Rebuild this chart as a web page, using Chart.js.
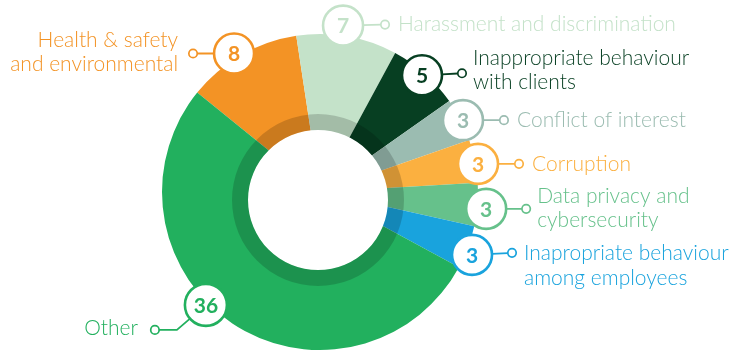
<!DOCTYPE html>
<html>
<head>
<meta charset="utf-8">
<script src="https://cdn.jsdelivr.net/npm/chart.js@4.4.1/dist/chart.umd.min.js"></script>
<style>
  html, body { margin: 0; padding: 0; background: #ffffff; overflow: hidden; }
  #wrap { position: relative; width: 732px; height: 356px; }
  #wrap canvas { position: absolute; left: 0; top: 0; }
</style>
</head>
<body>
<div id="wrap">
  <canvas id="main" width="732" height="356"></canvas>
  <canvas id="hole" width="732" height="356"></canvas>
</div>
<script>
// ---- data ----
const categories = [
  ['Health & safety', 'and environmental'],
  ['Harassment and discrimination'],
  ['Inappropriate behaviour', 'with clients'],
  ['Conflict of interest'],
  ['Corruption'],
  ['Data privacy and', 'cybersecurity'],
  ['Inapropriate behaviour', 'among employees'],
  ['Other']
];
const values = [8, 7, 5, 3, 3, 3, 3, 36];
const colors = ['#F39325', '#C4E2C9', '#073F22', '#9BBCB1', '#FBB040', '#66C18B', '#19A3DD', '#22B05E'];

// ---- label layout (annotation placement relative to each slice) ----
const labelLayout = [
  { da: -2,   dr: 5,   knob: [-41, 0],  textX: -56, align: 'right', lines: [-13, 11] },
  { da: -2,   dr: 10,  knob: [42, -1],  textX: 55,  align: 'left',  lines: [-1] },
  { da: -0.5, dr: -3,  knob: [40, -2],  textX: 51,  align: 'left',  lines: [-17, 7] },
  { da: 0.5,  dr: 2,   knob: [41, 0],   textX: 54,  align: 'left',  lines: [0] },
  { da: 1.2,  dr: 2.5, knob: [41, 0],   textX: 54,  align: 'left',  lines: [0] },
  { da: 1.2,  dr: 9,   knob: [40, 0],   textX: 51,  align: 'left',  lines: [-13, 11] },
  { da: 2,    dr: 6.5, knob: [40, -2],  textX: 52,  align: 'left',  lines: [-2, 23] },
  { da: 11.6, dr: 2.5, knob: [-51, 25], elbow: [-29, 25], textX: -68, align: 'right', lines: [23], R: 21 }
];

const LABEL_FONT = '300 21px Lato, "Open Sans", sans-serif';
const NUM_FONT = 'bold 21px Lato, "Open Sans", sans-serif';

const calloutPlugin = {
  id: 'callouts',
  afterDraw(chart) {
    const ctx = chart.ctx;
    const meta = chart.getDatasetMeta(0);
    meta.data.forEach((arc, i) => {
      const L = labelLayout[i];
      const col = colors[i];
      const p = arc.getProps(['x', 'y', 'startAngle', 'endAngle', 'outerRadius'], true);
      const a = (p.startAngle + p.endAngle) / 2 + L.da * Math.PI / 180;
      const r = p.outerRadius + L.dr;
      const cx = p.x + Math.cos(a) * r;
      const cy = p.y + Math.sin(a) * r;
      const R = L.R || 20;
      const kr = 4.2;
      const kx = cx + L.knob[0], ky = cy + L.knob[1];

      ctx.save();
      ctx.strokeStyle = col;
      ctx.lineCap = 'round';
      // connector
      ctx.lineWidth = 1.8;
      ctx.beginPath();
      if (L.elbow) {
        const ex = cx + L.elbow[0], ey = cy + L.elbow[1];
        const ang = Math.atan2(ey - cy, ex - cx);
        ctx.moveTo(cx + Math.cos(ang) * R, cy + Math.sin(ang) * R);
        ctx.lineTo(ex, ey);
        const dir = Math.sign(kx - ex);
        ctx.lineTo(kx - dir * kr, ky);
      } else {
        const ang = Math.atan2(ky - cy, kx - cx);
        ctx.moveTo(cx + Math.cos(ang) * R, cy + Math.sin(ang) * R);
        ctx.lineTo(kx - Math.cos(ang) * kr, ky - Math.sin(ang) * kr);
      }
      ctx.stroke();
      // knob
      ctx.beginPath();
      ctx.arc(kx, ky, kr, 0, Math.PI * 2);
      ctx.fillStyle = '#ffffff';
      ctx.fill();
      ctx.lineWidth = 1.7;
      ctx.stroke();
      // value bubble
      ctx.beginPath();
      ctx.arc(cx, cy, R, 0, Math.PI * 2);
      ctx.fillStyle = '#ffffff';
      ctx.fill();
      ctx.lineWidth = 2.6;
      ctx.stroke();
      ctx.fillStyle = col;
      ctx.font = NUM_FONT;
      ctx.textAlign = 'center';
      ctx.textBaseline = 'middle';
      ctx.fillText(String(values[i]), cx, cy + 1);
      // category text
      ctx.font = LABEL_FONT;
      ctx.textAlign = L.align;
      categories[i].forEach((line, j) => {
        ctx.fillText(line, cx + L.textX, cy + L.lines[j]);
      });
      ctx.restore();
    });
  }
};

new Chart(document.getElementById('main'), {
  type: 'doughnut',
  data: {
    labels: categories.map(c => c.join(' ')),
    datasets: [{
      data: values,
      backgroundColor: colors,
      borderWidth: 0,
      hoverOffset: 0
    }]
  },
  options: {
    responsive: false,
    animation: false,
    events: [],
    rotation: -51,
    cutout: 50,
    layout: { padding: { left: 162, right: 254, top: 34, bottom: 6 } },
    plugins: { legend: { display: false }, tooltip: { enabled: false } }
  },
  plugins: [calloutPlugin]
});

// inner shaded ring and white hole (slightly offset centre as in the original)
new Chart(document.getElementById('hole'), {
  type: 'doughnut',
  data: {
    labels: ['ring'],
    datasets: [
      { data: [1], backgroundColor: 'rgba(0,0,0,0.17)', borderWidth: 0, weight: 16, hoverOffset: 0 },
      { data: [1], backgroundColor: '#ffffff', borderWidth: 0, weight: 70, hoverOffset: 0 }
    ]
  },
  options: {
    responsive: false,
    animation: false,
    events: [],
    cutout: 0,
    layout: { padding: { left: 232, right: 328, top: 114, bottom: 70 } },
    plugins: { legend: { display: false }, tooltip: { enabled: false } }
  }
});
</script>
</body>
</html>
